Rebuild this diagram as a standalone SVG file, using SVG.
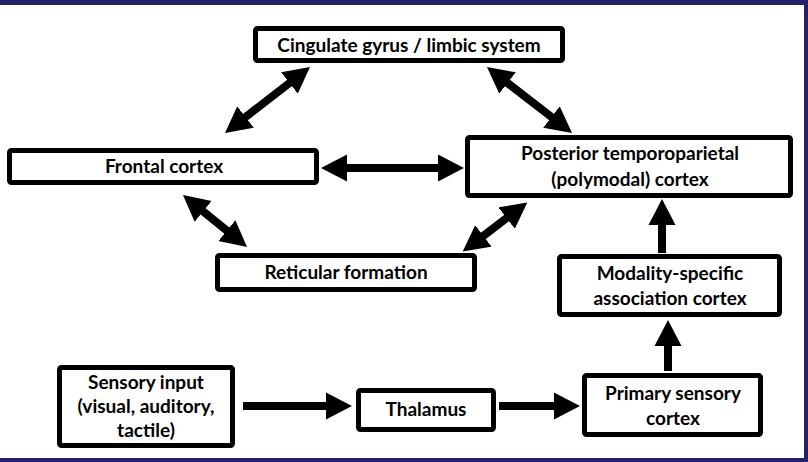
<svg xmlns="http://www.w3.org/2000/svg" width="808" height="462" viewBox="0 0 808 462">
<style>
.box{fill:#fff;stroke:#000;stroke-width:5;}
.t{font-family:Lato,"Open Sans","Liberation Sans",sans-serif;font-weight:bold;font-size:19px;fill:#000;text-anchor:middle;}
.a{stroke:#000;stroke-width:8;fill:none;}
.s{marker-end:url(#ah);}
.d{marker-start:url(#ah);marker-end:url(#ah);}
</style>
<defs>
<marker id="ah" markerUnits="userSpaceOnUse" markerWidth="28" markerHeight="28" refX="6" refY="13.5" orient="auto-start-reverse" viewBox="0 0 28 27">
<path d="M0,0 L26,13.5 L0,27 Z" fill="#000"/>
</marker>
</defs>
<rect x="0" y="0" width="808" height="462" fill="#fff"/>
<rect x="0" y="0" width="808" height="5" fill="#23226B"/>
<rect x="804" y="0" width="4" height="462" fill="#23226B"/>
<rect x="0" y="458" width="808" height="4" fill="#23226B"/>

<g id="connectors">
<line class="a d" x1="294.2" y1="79.3" x2="240.8" y2="120.7"/>
<line class="a d" x1="502.8" y1="79.3" x2="556.2" y2="120.7"/>
<line class="a d" x1="341" y1="168" x2="444" y2="168"/>
<line class="a d" x1="198.5" y1="207.6" x2="231.5" y2="234.4"/>
<line class="a d" x1="511.4" y1="214.5" x2="478.6" y2="239.5"/>
<line class="a s" x1="662" y1="253" x2="662" y2="219"/>
<line class="a s" x1="668" y1="371" x2="668" y2="340"/>
<line class="a s" x1="243" y1="406" x2="332" y2="406"/>
<line class="a s" x1="499" y1="406" x2="560" y2="406"/>
</g>

<g id="cingulate">
<rect class="box" x="255.5" y="28.5" width="307" height="32" rx="2"/>
<text class="t" x="409" y="52">Cingulate gyrus / limbic system</text>
</g>
<g id="frontal">
<rect class="box" x="9.5" y="150.5" width="307" height="32" rx="2"/>
<text class="t" x="164" y="173">Frontal cortex</text>
</g>
<g id="posterior">
<rect class="box" x="467.5" y="137.5" width="323" height="58" rx="2"/>
<text class="t" x="630" y="160">Posterior temporoparietal</text>
<text class="t" x="630" y="186">(polymodal) cortex</text>
</g>
<g id="reticular">
<rect class="box" x="217.5" y="255.5" width="257" height="34" rx="2"/>
<text class="t" x="346" y="279">Reticular formation</text>
</g>
<g id="modality">
<rect class="box" x="559.5" y="256.5" width="220" height="58" rx="2"/>
<text class="t" x="670" y="280">Modality-specific</text>
<text class="t" x="670" y="305">association cortex</text>
</g>
<g id="primary">
<rect class="box" x="584.5" y="375.5" width="176" height="59" rx="2"/>
<text class="t" x="673" y="400">Primary sensory</text>
<text class="t" x="673" y="425">cortex</text>
</g>
<g id="sensory">
<rect class="box" x="59.5" y="367.5" width="173" height="78" rx="2"/>
<text class="t" x="146" y="389">Sensory input</text>
<text class="t" x="146" y="413">(visual, auditory,</text>
<text class="t" x="146" y="437">tactile)</text>
</g>
<g id="thalamus">
<rect class="box" x="358.5" y="390.5" width="135" height="39" rx="2"/>
<text class="t" x="426" y="416">Thalamus</text>
</g>
</svg>
